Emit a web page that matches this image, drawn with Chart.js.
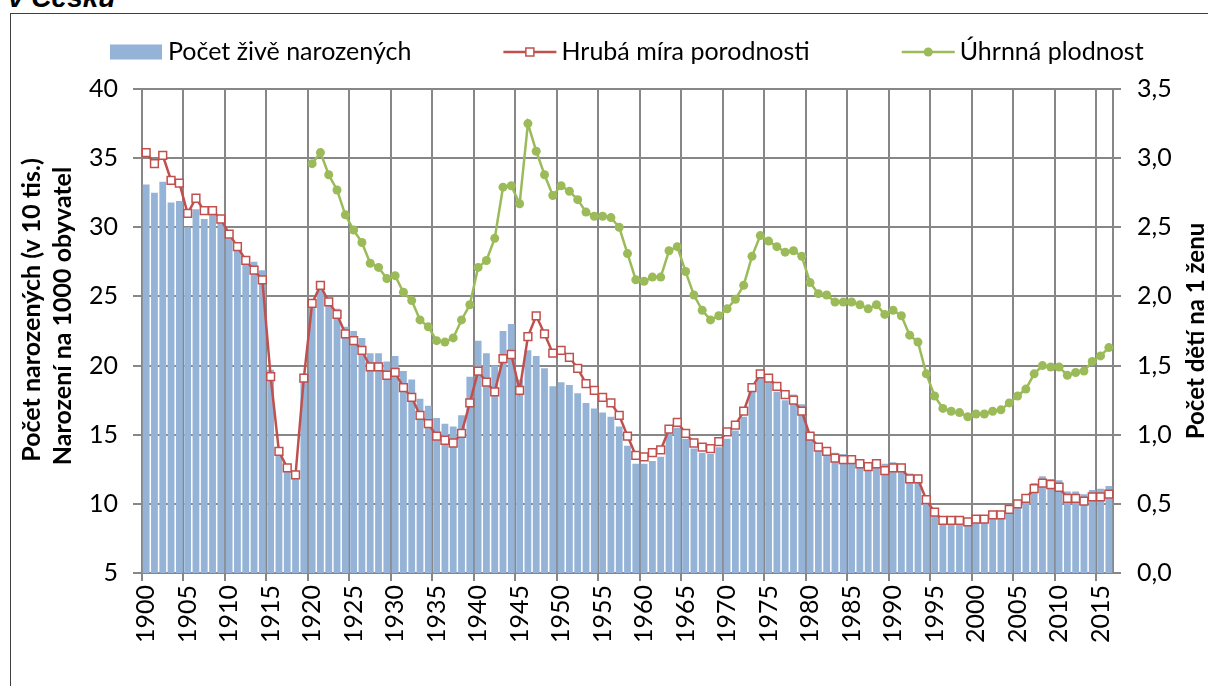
<!DOCTYPE html>
<html>
<head>
<meta charset="utf-8">
<script src="https://cdn.jsdelivr.net/npm/chart.js@4.4.1/dist/chart.umd.min.js"></script>
<style>
  html, body { margin: 0; padding: 0; background: #fff; overflow: hidden; }
  #heading { position: absolute; left: 8px; top: -16px; font: italic bold 28px 'Liberation Sans', Arial, sans-serif; color: #000; line-height: 28px; }
  #frame { position: absolute; left: 10px; top: 13px; width: 1300px; height: 800px; border: 1px solid #404040; }
  #chart { position: absolute; left: 0; top: 0; }
</style>
</head>
<body>
<div id="heading">v Česku</div>
<div id="frame"></div>
<canvas id="chart" width="1208" height="686"></canvas>
<script>
// years on the category axis
const firstYear = 1900;
const lastYear = 2016;
const years = Array.from({ length: lastYear - firstYear + 1 }, (_, i) => firstYear + i);

// live births, in tens of thousands (1900-2016)
const births = [
    33.1, 32.5, 33.3, 31.8, 31.9, 30.0, 31.3, 30.6, 30.9, 30.3,
    29.2, 28.3, 27.6, 27.5, 26.9, 19.7, 14.1, 12.7, 12.0, 19.4,
    24.7, 25.6, 24.7, 24.1, 22.8, 22.5, 22.0, 20.9, 20.9, 20.3,
    20.7, 19.6, 19.0, 17.6, 17.1, 16.2, 15.8, 15.6, 16.4, 19.2,
    21.8, 20.9, 20.0, 22.5, 23.0, 19.0, 21.1, 20.7, 19.8, 18.5,
    18.8, 18.6, 18.0, 17.3, 16.9, 16.6, 16.3, 15.6, 14.2, 12.9,
    12.9, 13.1, 13.4, 15.1, 15.5, 14.7, 14.0, 13.7, 13.6, 14.1,
    14.7, 15.3, 16.3, 18.1, 19.1, 18.8, 18.1, 17.5, 17.9, 17.2,
    14.9, 14.4, 14.0, 13.7, 13.6, 13.5, 13.2, 13.0, 13.2, 12.9,
    13.0, 12.9, 12.2, 12.1, 10.6, 9.7, 9.1, 9.1, 9.1, 8.9,
    9.1, 9.1, 9.3, 9.3, 9.8, 10.2, 10.5, 11.5, 12.0, 11.8,
    11.7, 10.9, 10.9, 10.7, 11.0, 11.1, 11.3
];

// crude birth rate, per 1000 inhabitants (1900-2016)
const birthRate = [
    35.4, 34.6, 35.2, 33.4, 33.2, 31.0, 32.1, 31.2, 31.2, 30.6,
    29.5, 28.6, 27.6, 26.9, 26.2, 19.2, 13.8, 12.6, 12.1, 19.1,
    24.5, 25.8, 24.6, 23.7, 22.3, 21.8, 21.1, 19.9, 19.9, 19.3,
    19.5, 18.4, 17.7, 16.4, 15.8, 14.9, 14.6, 14.4, 15.1, 17.3,
    19.6, 18.8, 18.1, 20.5, 20.8, 18.2, 22.1, 23.6, 22.3, 20.9,
    21.1, 20.6, 19.8, 18.7, 18.2, 17.7, 17.3, 16.4, 14.9, 13.5,
    13.4, 13.7, 13.9, 15.4, 15.9, 15.1, 14.4, 14.1, 14.0, 14.5,
    15.2, 15.7, 16.7, 18.4, 19.4, 19.1, 18.5, 17.9, 17.5, 16.7,
    14.9, 14.1, 13.8, 13.3, 13.2, 13.2, 12.9, 12.7, 12.9, 12.4,
    12.6, 12.6, 11.8, 11.8, 10.3, 9.4, 8.8, 8.8, 8.8, 8.7,
    8.9, 8.9, 9.2, 9.2, 9.6, 10.0, 10.4, 11.1, 11.5, 11.4,
    11.2, 10.4, 10.4, 10.2, 10.5, 10.5, 10.7
];

// total fertility rate, children per woman (1920-2016)
const fertilityStart = 1920;
const fertility = [
    2.96, 3.04, 2.88, 2.77, 2.59, 2.48, 2.39, 2.24, 2.21, 2.13,
    2.15, 2.03, 1.97, 1.83, 1.78, 1.68, 1.67, 1.70, 1.83, 1.94,
    2.21, 2.26, 2.42, 2.79, 2.80, 2.67, 3.25, 3.05, 2.88, 2.73,
    2.80, 2.76, 2.70, 2.61, 2.58, 2.58, 2.57, 2.50, 2.31, 2.12,
    2.11, 2.14, 2.14, 2.33, 2.36, 2.18, 2.01, 1.90, 1.83, 1.86,
    1.91, 1.98, 2.08, 2.29, 2.44, 2.40, 2.36, 2.32, 2.33, 2.29,
    2.10, 2.02, 2.01, 1.96, 1.96, 1.96, 1.94, 1.91, 1.94, 1.87,
    1.90, 1.86, 1.72, 1.67, 1.44, 1.28, 1.19, 1.17, 1.16, 1.13,
    1.15, 1.15, 1.17, 1.18, 1.23, 1.28, 1.33, 1.44, 1.50, 1.49,
    1.49, 1.43, 1.45, 1.46, 1.53, 1.57, 1.63
];

const seriesNames = ['Počet živě narozených', 'Hrubá míra porodnosti', 'Úhrnná plodnost'];
const leftTitle = ['Počet narozených (v 10 tis.)', 'Narození na 1000 obyvatel'];
const rightTitle = 'Počet dětí na 1 ženu';

const BAR = '#95B3D7';
const RED = '#C0504D';
const GREEN = '#9BBB59';
const GRID = '#878787';
const FONT = 'Lato';
const TICK_FONT = { family: FONT, size: 25 };

const fertilitySeries = years.map(y => y < fertilityStart ? null : fertility[y - fertilityStart]);

// axis titles and the legend (line + marker symbols like the original)
const decorations = {
    id: 'decorations',
    afterDraw(chart) {
        const ctx = chart.ctx;
        ctx.save();
        ctx.fillStyle = '#000';
        ctx.textAlign = 'center';
        ctx.textBaseline = 'middle';
        ctx.font = `bold 25px ${FONT}`;

        const vertical = (text, x, y) => {
            ctx.save();
            ctx.translate(x, y);
            ctx.rotate(-Math.PI / 2);
            ctx.fillText(text, 0, 0);
            ctx.restore();
        };
        vertical(leftTitle[0], 32, 310);
        vertical(leftTitle[1], 63, 316);
        ctx.font = `bold 24px ${FONT}`;
        vertical(rightTitle, 1196, 331);

        // legend
        ctx.font = `25px ${FONT}`;
        ctx.textAlign = 'left';
        const y = 52;
        let x = 110;
        chart.data.datasets.forEach(ds => {
            if (ds.type === 'bar') {
                ctx.fillStyle = ds.backgroundColor;
                ctx.fillRect(x, y - 7.5, 52, 15);
            } else {
                ctx.strokeStyle = ds.borderColor;
                ctx.lineWidth = 2.5;
                ctx.beginPath();
                ctx.moveTo(x, y);
                ctx.lineTo(x + 53, y);
                ctx.stroke();
                if (ds.pointStyle === 'rect') {
                    ctx.fillStyle = '#fff';
                    ctx.lineWidth = 1.5;
                    ctx.fillRect(x + 22.5, y - 4, 8, 8);
                    ctx.strokeRect(x + 22.5, y - 4, 8, 8);
                } else {
                    ctx.fillStyle = ds.borderColor;
                    ctx.beginPath();
                    ctx.arc(x + 26.5, y, 4.5, 0, Math.PI * 2);
                    ctx.fill();
                }
            }
            x += 58;
            ctx.fillStyle = '#000';
            ctx.fillText(ds.label, x, y);
            x += ctx.measureText(ds.label).width + 92;
        });
        ctx.restore();
    }
};

new Chart(document.getElementById('chart'), {
    type: 'bar',
    data: {
        labels: years.map(String),
        datasets: [{
            type: 'bar',
            label: seriesNames[0],
            data: births,
            yAxisID: 'y',
            backgroundColor: BAR,
            borderWidth: 0,
            barPercentage: 0.82,
            categoryPercentage: 1,
            order: 3
        }, {
            type: 'line',
            label: seriesNames[1],
            data: birthRate,
            yAxisID: 'y',
            borderColor: RED,
            borderWidth: 2.5,
            pointStyle: 'rect',
            pointRadius: 5.5,
            pointBorderWidth: 1.5,
            pointBackgroundColor: '#fff',
            pointBorderColor: RED,
            tension: 0,
            order: 2
        }, {
            type: 'line',
            label: seriesNames[2],
            data: fertilitySeries,
            yAxisID: 'y1',
            borderColor: GREEN,
            borderWidth: 2.5,
            pointStyle: 'circle',
            pointRadius: 4.5,
            pointBorderWidth: 0,
            pointBackgroundColor: GREEN,
            tension: 0,
            order: 1
        }]
    },
    options: {
        responsive: false,
        animation: false,
        layout: { padding: { top: 89, left: 0, right: 0, bottom: 0 } },
        plugins: {
            legend: { display: false },
            tooltip: { enabled: false }
        },
        scales: {
            x: {
                type: 'category',
                offset: true,
                grid: {
                    offset: true,
                    color: c => c.index % 5 === 0 ? GRID : 'rgba(0,0,0,0)',
                    lineWidth: 2,
                    tickLength: 8
                },
                border: { color: GRID, width: 2 },
                ticks: {
                    autoSkip: false,
                    minRotation: 90,
                    maxRotation: 90,
                    padding: 4,
                    color: '#000',
                    font: TICK_FONT,
                    callback: (v, i) => years[i] % 5 === 0 ? String(years[i]) : ''
                },
                afterFit: s => { s.height = 113; }
            },
            y: {
                position: 'left',
                min: 5,
                max: 40,
                ticks: { stepSize: 5, padding: 15, color: '#000', font: TICK_FONT },
                grid: { color: GRID, lineWidth: 2, tickLength: 9 },
                border: { color: GRID, width: 2 },
                afterFit: s => { s.width = 142; }
            },
            y1: {
                position: 'right',
                min: 0,
                max: 3.5,
                ticks: {
                    stepSize: 0.5,
                    padding: 16,
                    color: '#000',
                    font: TICK_FONT,
                    callback: v => v.toFixed(1).replace('.', ',')
                },
                grid: { drawOnChartArea: false, color: GRID, lineWidth: 2, tickLength: 8 },
                border: { color: GRID, width: 2 },
                afterFit: s => { s.width = 95; }
            }
        }
    },
    plugins: [decorations]
});
</script>
</body>
</html>
